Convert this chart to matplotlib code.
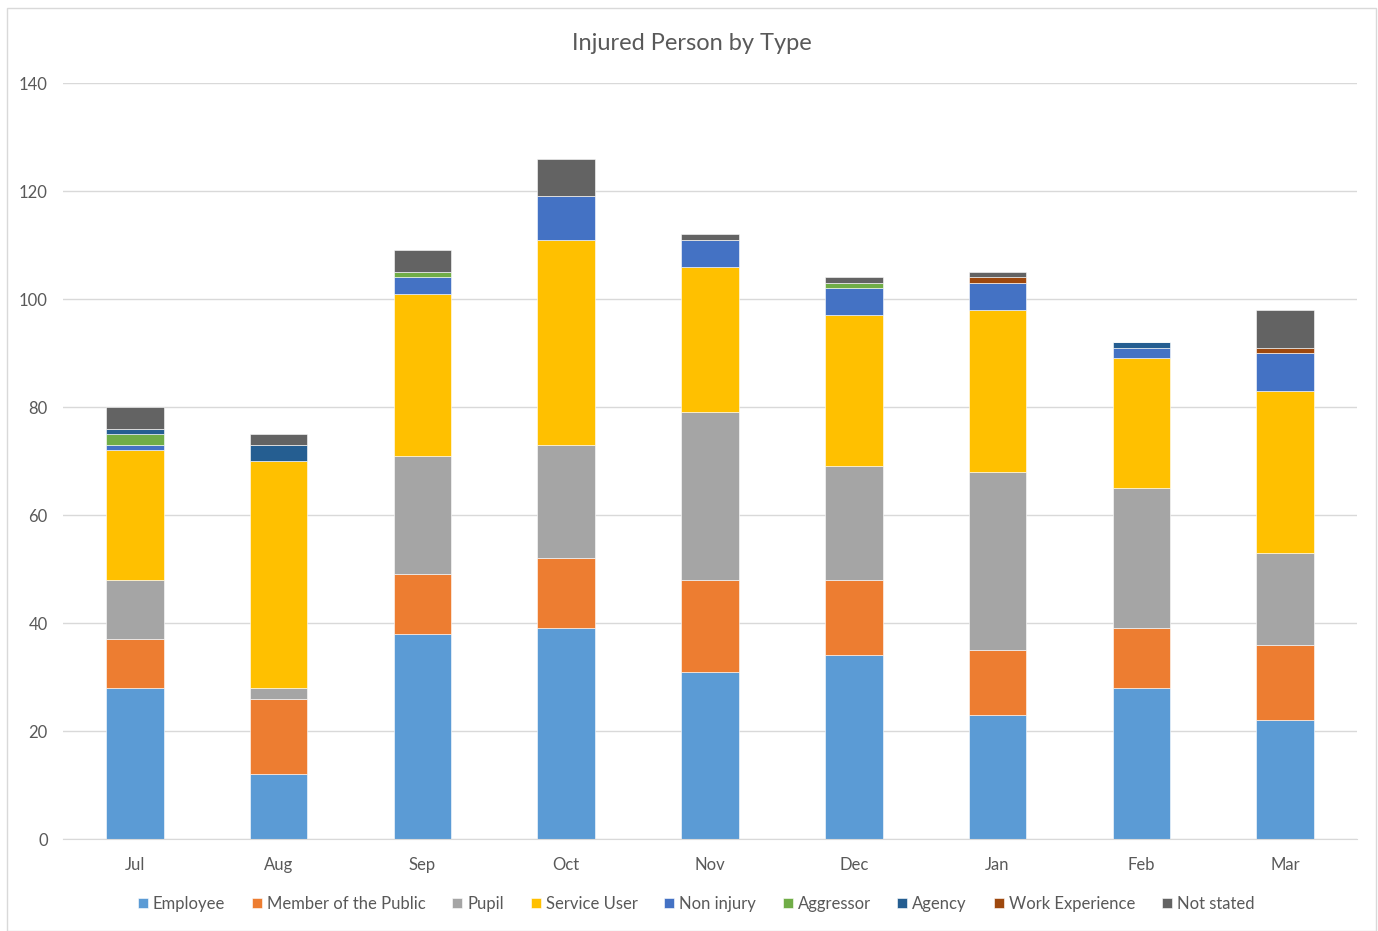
import numpy as np
import matplotlib.pyplot as plt
from matplotlib.patches import Rectangle

plt.rcParams['font.family'] = ['Lato', 'DejaVu Sans']

months = ['Jul', 'Aug', 'Sep', 'Oct', 'Nov', 'Dec', 'Jan', 'Feb', 'Mar']

employee = [28, 12, 38, 39, 31, 34, 23, 28, 22]
member_public = [9, 14, 11, 13, 17, 14, 12, 11, 14]
pupil = [11, 2, 22, 21, 31, 21, 33, 26, 17]
service_user = [24, 42, 30, 38, 27, 28, 30, 24, 30]
non_injury = [1, 0, 3, 8, 5, 5, 5, 2, 7]
aggressor = [2, 0, 1, 0, 0, 1, 0, 0, 0]
agency = [1, 3, 0, 0, 0, 0, 0, 1, 0]
work_experience = [0, 0, 0, 0, 0, 0, 1, 0, 1]
not_stated = [4, 2, 4, 7, 1, 1, 1, 0, 7]

series = [
    ('Employee', employee, '#5B9BD5'),
    ('Member of the Public', member_public, '#ED7D31'),
    ('Pupil', pupil, '#A5A5A5'),
    ('Service User', service_user, '#FFC000'),
    ('Non injury', non_injury, '#4472C4'),
    ('Aggressor', aggressor, '#70AD47'),
    ('Agency', agency, '#255E91'),
    ('Work Experience', work_experience, '#9E480E'),
    ('Not stated', not_stated, '#636363'),
]

txt = '#595959'
fig = plt.figure(figsize=(13.78, 9.31), dpi=100)
ax = fig.add_axes([63 / 1378, 1 - 839 / 931, (1357 - 63) / 1378, (839 - 83) / 931])

x = np.arange(len(months))
bottom = np.zeros(len(months))
for name, vals, col in series:
    ax.bar(x, vals, 0.4, bottom=bottom, color=col, label=name,
           edgecolor='white', linewidth=0.4)
    bottom += np.array(vals)

ax.set_xlim(-0.5, len(months) - 0.5)
ax.set_ylim(0, 140)
ax.set_yticks(range(0, 141, 20))
ax.set_xticks(x)
ax.set_xticklabels(months)
ax.yaxis.grid(True, color='#D9D9D9', linewidth=1)
ax.set_axisbelow(True)
for s in ['top', 'right', 'left']:
    ax.spines[s].set_visible(False)
ax.spines['bottom'].set_color('#D9D9D9')
ax.tick_params(length=0, labelsize=12, colors=txt)
ax.tick_params(axis='y', pad=11)
ax.tick_params(axis='x', pad=13)

fig.text(692 / 1378, 1 - 43 / 931, 'Injured Person by Type', ha='center', va='center',
         fontsize=17, color=txt)

fig.legend(loc='center', bbox_to_anchor=(696 / 1378, 1 - 904 / 931), ncol=9,
           frameon=False, fontsize=12, labelcolor=txt, handlelength=0.6,
           handleheight=0.6, handletextpad=0.3, columnspacing=1.6)

fig.patches.append(Rectangle((7 / 1378, 0), 1369 / 1378, 1 - 8 / 931, transform=fig.transFigure,
                             fill=False, edgecolor='#D9D9D9', linewidth=1))

fig.savefig('out.png', dpi=100)
